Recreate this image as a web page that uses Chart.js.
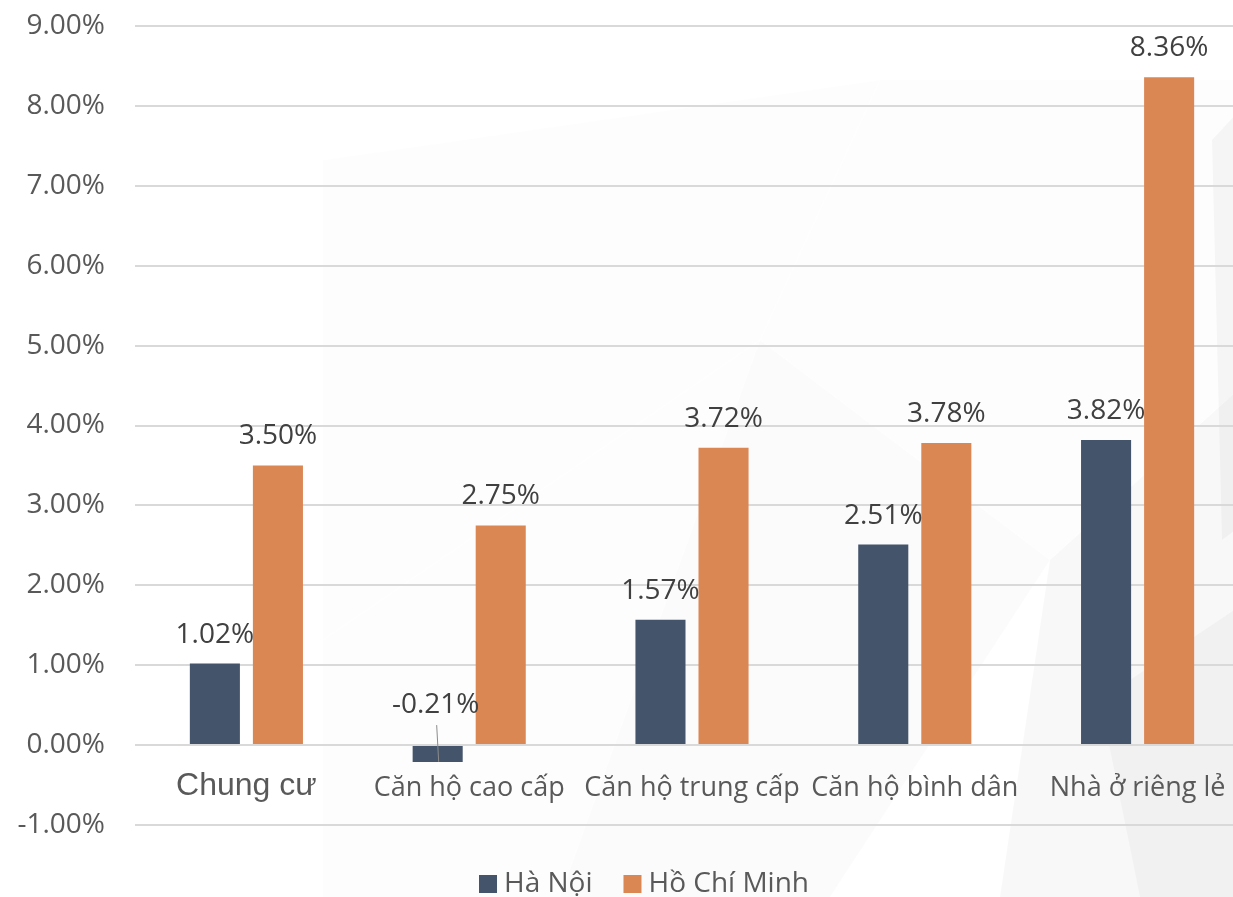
<!DOCTYPE html>
<html>
<head>
<meta charset="utf-8">
<script src="https://cdn.jsdelivr.net/npm/chart.js@4"></script>
<style>
  html, body { margin: 0; padding: 0; background: #fff; overflow: hidden; }
  #wrap { width: 1249px; height: 897px; }
</style>
</head>
<body>
<div id="wrap"><canvas id="gia"></canvas></div>
<script>
var categories = ["Chung cư", "Căn hộ cao cấp", "Căn hộ trung cấp", "Căn hộ bình dân", "Nhà ở riêng lẻ"];
var haNoi = [1.02, -0.21, 1.57, 2.51, 3.82];
var hoChiMinh = [3.50, 2.75, 3.72, 3.78, 8.36];
var yTicks = [-1, 0, 1, 2, 3, 4, 5, 6, 7, 8, 9];

var textColor = "#595959";
var seriesColors = ["#44546A", "#DB8753"];

// faint grey facets behind the plot
var facets = [
  { pts: [[323, 160], [880, 80], [760, 340], [323, 640]], c: "rgba(0,0,0,0.006)" },
  { pts: [[760, 340], [1050, 560], [830, 897], [560, 897]], c: "rgba(0,0,0,0.014)" },
  { pts: [[1050, 560], [1249, 380], [1249, 897], [1000, 897]], c: "rgba(0,0,0,0.026)" },
  { pts: [[1100, 700], [1249, 600], [1249, 897], [1140, 897]], c: "rgba(0,0,0,0.028)" },
  { pts: [[880, 80], [1249, 80], [1249, 380], [1050, 560], [760, 340]], c: "rgba(0,0,0,0.007)" },
  { pts: [[323, 640], [760, 340], [560, 897], [323, 897]], c: "rgba(0,0,0,0.008)" },
  { pts: [[1212, 140], [1249, 100], [1249, 520], [1222, 540]], c: "rgba(0,0,0,0.03)" }
];

var backdrop = {
  id: "backdrop",
  beforeDraw: function(chart) {
    var c = chart.ctx;
    c.save();
    c.fillStyle = "#ffffff";
    c.fillRect(0, 0, chart.width, chart.height);
    facets.forEach(function(f) {
      c.beginPath();
      f.pts.forEach(function(p, i) { i ? c.lineTo(p[0], p[1]) : c.moveTo(p[0], p[1]); });
      c.closePath();
      c.fillStyle = f.c;
      c.fill();
    });
    c.restore();
  }
};

// axis text, bar values and the legend row
var labelsPlugin = {
  id: "labelsPlugin",
  afterDatasetsDraw: function(chart) {
    var c = chart.ctx;
    var x = chart.scales.x;
    var y = chart.scales.y;
    var zero = y.getPixelForValue(0);
    c.save();
    c.textBaseline = "middle";

    // y tick labels
    c.font = "28px 'Open Sans'";
    c.fillStyle = textColor;
    c.textAlign = "right";
    yTicks.forEach(function(v) {
      c.fillText(v.toFixed(2) + "%", chart.chartArea.left - 30, y.getPixelForValue(v));
    });

    // category names under the zero line
    c.textAlign = "center";
    categories.forEach(function(name, i) {
      c.font = i === 0 ? "32px 'Liberation Sans'" : "27px 'Open Sans'";
      c.fillText(name, x.getPixelForTick(i), zero + (i === 0 ? 41 : 43));
    });

    // values above the bars
    c.font = "28px 'Open Sans'";
    c.fillStyle = "#404040";
    chart.data.datasets.forEach(function(ds, di) {
      chart.getDatasetMeta(di).data.forEach(function(bar, i) {
        var v = ds.data[i];
        var txt = v.toFixed(2) + "%";
        if (v < 0) {
          var ty = zero - 40;
          c.fillText(txt, bar.x - 2, ty);
          c.strokeStyle = "#8c8c8c";
          c.lineWidth = 1;
          c.beginPath();
          c.moveTo(bar.x - 1, ty + 20);
          c.lineTo(bar.x + 1, bar.y);
          c.stroke();
        } else {
          c.fillText(txt, bar.x, bar.y - 29);
        }
      });
    });

    // legend
    c.font = "28px 'Open Sans'";
    c.textAlign = "left";
    var box = 18, gapText = 7, gapItem = 31;
    var widths = chart.data.datasets.map(function(ds) { return box + gapText + c.measureText(ds.label).width; });
    var total = widths[0] + gapItem + widths[1];
    var lx = 644 - total / 2;
    var ly = chart.chartArea.bottom + 59;
    chart.data.datasets.forEach(function(ds, di) {
      c.fillStyle = seriesColors[di];
      c.fillRect(lx, ly - box / 2, box, box);
      c.fillStyle = textColor;
      c.fillText(ds.label, lx + box + gapText, ly);
      lx += widths[di] + gapItem;
    });
    c.restore();
  }
};

var ctx = document.getElementById("gia").getContext("2d");
var myChart = new Chart(ctx, {
  type: "bar",
  data: {
    labels: categories,
    datasets: [{
      label: "Hà Nội",
      data: haNoi,
      backgroundColor: seriesColors[0],
      categoryPercentage: 0.566,
      barPercentage: 0.794
    }, {
      label: "Hồ Chí Minh",
      data: hoChiMinh,
      backgroundColor: seriesColors[1],
      categoryPercentage: 0.566,
      barPercentage: 0.794
    }]
  },
  options: {
    responsive: true,
    maintainAspectRatio: false,
    animation: false,
    layout: { padding: { top: 26, right: 0, left: 0, bottom: 64 } },
    plugins: {
      legend: { display: false },
      tooltip: { enabled: false }
    },
    scales: {
      x: {
        grid: { display: false },
        border: { display: false },
        ticks: { display: false }
      },
      y: {
        min: -1,
        max: 9,
        afterBuildTicks: function(s) {
          s.ticks = yTicks.map(function(v) { return { value: v }; });
        },
        afterFit: function(s) { s.width = 135; },
        grid: { color: "#d9d9d9", lineWidth: 2, drawTicks: false },
        border: { display: false },
        ticks: { display: false }
      }
    }
  },
  plugins: [backdrop, labelsPlugin]
});
</script>
</body>
</html>
